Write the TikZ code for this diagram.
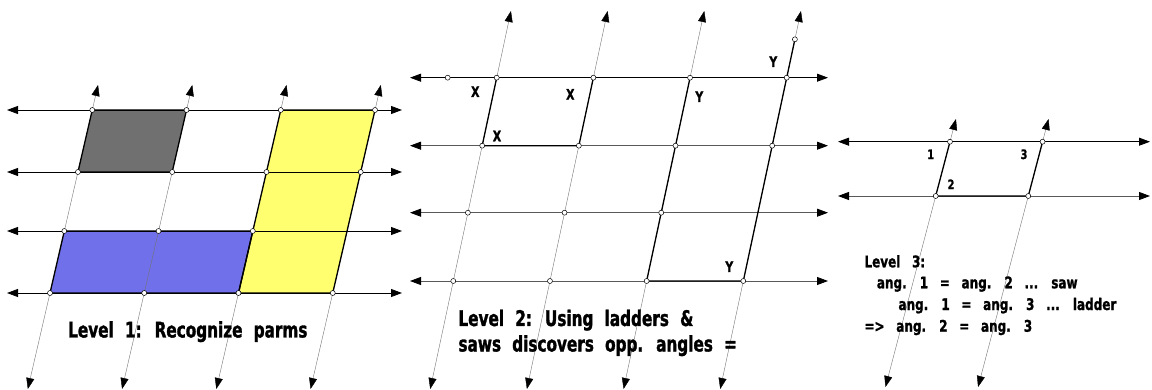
\documentclass[tikz,border=0pt]{standalone}
\usepackage{fontspec}
\setmainfont{DejaVu Sans}[FakeStretch=0.71,WordSpace=2.1,BoldFeatures={FakeBold=1.4}]
\newfontfamily\notefont{DejaVu Sans}[FakeStretch=0.75,WordSpace=2.8,BoldFeatures={FakeBold=1.2}]
\usetikzlibrary{arrows.meta}

\definecolor{parmgray}{RGB}{112,112,112}
\definecolor{parmyellow}{RGB}{255,255,112}
\definecolor{parmblue}{RGB}{112,112,234}

\tikzset{
  tip/.style={{Triangle[length=11pt,width=8pt,color=black]}-{Triangle[length=11pt,width=8pt,color=black]}},
  hline/.style={tip, line width=0.8pt},
  gline/.style={tip, line width=0.8pt, black!65},
  sline/.style={tip, line width=0.4pt, black!55},
  edge/.style={line width=1.3pt, line join=round},
  dot/.style={circle, draw, fill=white, inner sep=0pt, minimum size=5pt, line width=0.5pt},
  big/.style={font=\bfseries\fontsize{21.5}{25}\selectfont, anchor=base west, inner sep=0pt},
  small/.style={font=\notefont\bfseries\fontsize{16}{19}\selectfont, anchor=base west, inner sep=0pt},
  lbl/.style={font=\notefont\bfseries\fontsize{14.5}{16}\selectfont, inner sep=0pt}
}

\begin{document}
\begin{tikzpicture}[x=1pt, y=-1pt]
  \useasboundingbox (0,0) rectangle (1152,390);

  % level 1
  \foreach \y [count=\r] in {110,172,231,293} {
    \foreach \c in {0,1,2,3}
      \coordinate (a\c\r) at ({50+94.25*\c+(293-\y)*0.231},\y);
    \coordinate (aw\r) at (7,\y);
    \coordinate (ae\r) at (402,\y);
  }
  \foreach \c in {0,1,2,3} {
    \coordinate (an\c) at ({50+94.25*\c+(293-85)*0.231},85);
    \coordinate (as\c) at ({50+94.25*\c-(389-293)*0.231},389);
  }
  \fill[parmgray] (a01) -- (a11) -- (a12) -- (a02) -- cycle;
  \fill[parmyellow] (a21) -- (a31) -- (a34) -- (a24) -- cycle;
  \fill[parmblue] (a03) -- (a23) -- (a24) -- (a04) -- cycle;
  \foreach \r in {1,2,3,4} \draw[hline] (aw\r) -- (ae\r);
  \foreach \c in {0,1,2,3} \draw[sline] (as\c) -- (an\c);
  \draw[edge] (a01) -- (a11) -- (a12) -- (a02) -- cycle;
  \draw[edge] (a21) -- (a31) -- (a34) -- (a24) -- cycle;
  \draw[edge] (a03) -- (a23) -- (a24) -- (a04) -- cycle;
  \foreach \p in {01,11,21,31,02,12,22,32,03,13,23,04,14,24,34}
    \node[dot] (da\p) at (a\p) {};
  \node[big] (t1) at (68,337.5) {Level 1: Recognize parms};

  % level 2
  \foreach \y [count=\r] in {77.7,145.7,212.7,281} {
    \foreach \c in {0,1,2,3}
      \coordinate (b\c\r) at ({453.3+96.67*\c+(281-\y)*0.2135},\y);
    \coordinate (bw\r) at (410,\y);
    \coordinate (be\r) at (828,\y);
  }
  \foreach \c in {0,1,2,3} {
    \coordinate (bn\c) at ({453.3+96.67*\c+(281-11)*0.2135},11);
    \coordinate (bs\c) at ({453.3+96.67*\c-(389-281)*0.2135},389);
  }
  \coordinate (bx) at (447.7,77.7);
  \coordinate (by) at ({743.3+(281-39.3)*0.2135},39.3);
  \draw[hline] (bw1) -- (be1);
  \foreach \r in {2,3,4} \draw[gline] (bw\r) -- (be\r);
  \foreach \c in {0,1,2,3} \draw[sline] (bs\c) -- (bn\c);
  \draw[line width=1.1pt] (bx) -- (b31);
  \draw[edge] (b01) -- (b02) -- (b12) -- (b11);
  \draw[edge] (b21) -- (b24) -- (b34) -- (by);
  \foreach \p in {01,11,21,31,02,12,22,32,03,13,23,04,14,24,34}
    \node[dot] (db\p) at (b\p) {};
  \node[dot] (dbx) at (bx) {};
  \node[dot] (dby) at (by) {};
  \node[lbl] (x1) at (475.3,91.7) {X};
  \node[lbl] (x2) at (570.3,94.3) {X};
  \node[lbl] (x3) at (497,136) {X};
  \node[lbl] (y1) at (699.3,96.7) {Y};
  \node[lbl] (y2) at (773.3,61.7) {Y};
  \node[lbl] (y3) at (729.3,266.7) {Y};
  \node[big] (t2a) at (458.3,326) {Level 2: Using ladders \&};
  \node[big] (t2b) at (458.3,351.5) {saws discovers opp. angles =};

  % level 3
  \foreach \y [count=\r] in {141.7,196} {
    \foreach \c in {0,1}
      \coordinate (c\c\r) at ({935.7+92.6*\c+(196-\y)*0.263},\y);
    \coordinate (cw\r) at (838,\y);
    \coordinate (ce\r) at (1150,\y);
  }
  \foreach \c in {0,1} {
    \coordinate (cn\c) at ({935.7+92.6*\c+(196-119)*0.263},119);
    \coordinate (cs\c) at ({935.7+92.6*\c-(387-196)*0.263},387);
  }
  \draw[hline] (cw1) -- (ce1);
  \draw[gline] (cw2) -- (ce2);
  \foreach \c in {0,1} \draw[sline] (cs\c) -- (cn\c);
  \draw[edge] (c01) -- (c02) -- (c12) -- (c11);
  \foreach \p in {01,11,02,12}
    \node[dot] (dc\p) at (c\p) {};
  \node[lbl, font=\notefont\bfseries\fontsize{13}{15}\selectfont] (n1) at (930.7,154.3) {1};
  \node[lbl, font=\notefont\bfseries\fontsize{13}{15}\selectfont] (n3) at (1024,154.3) {3};
  \node[lbl, font=\notefont\bfseries\fontsize{13}{15}\selectfont] (n2) at (951,184.3) {2};
  \node[small] (t3a) at (864.3,267.3) {Level 3:};
  \node[small] (t3b) at (876.7,288.3) {ang. 1 = ang. 2 ... saw};
  \node[small] (t3c) at (898.3,310) {ang. 1 = ang. 3 ... ladder};
  \node[small] (t3d) at (864.3,331.7) {=> ang. 2 = ang. 3};
\end{tikzpicture}
\end{document}
